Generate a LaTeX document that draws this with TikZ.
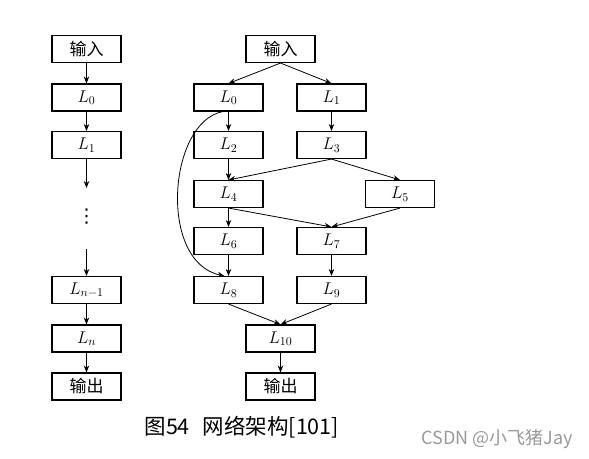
\RequirePackage{fix-cm}
\documentclass[tikz,border=0pt]{standalone}
\usepackage{fontspec}
\newfontfamily\cjk{Noto Sans CJK SC}
\newfontfamily\sym{DejaVu Sans}
\usepackage{tikz}
\usetikzlibrary{arrows.meta, positioning}

\begin{document}
\begin{tikzpicture}[x=1pt, y=-1pt,
  box/.style={draw, line width=1.1pt, minimum width=69pt, minimum height=27pt, inner sep=0pt, font=\fontsize{17}{19}\selectfont},
  line/.style={->, >={Stealth[length=7pt, width=5.5pt]}, line width=0.8pt}]
\useasboundingbox (0,0) rectangle (589,458);
% left chain
\node[box] (in1) at (86.5, 49) {\cjk 输入};
\node[box] (a0) at (86.5, 97.5) {$L_0$};
\node[box] (a1) at (86.5, 145) {$L_1$};
\coordinate (c1) at (86.5, 188);
\node[font=\sym\fontsize{19}{21}\selectfont] (dots) at (86.5, 217) {⋮};
\coordinate (c2) at (86.5, 249);
\node[box] (an1) at (86.5, 290) {$L_{n-1}$};
\node[box] (an) at (86.5, 338.5) {$L_n$};
\node[box] (out1) at (86.5, 386.5) {\cjk 输出};
\draw[line] (in1) -- (a0);
\draw[line] (a0) -- (a1);
\draw[line] (a1) -- (c1);
\draw[line] (c2) -- (an1);
\draw[line] (an1) -- (an);
\draw[line] (an) -- (out1);
% right graph
\node[box] (in2) at (280.5, 49) {\cjk 输入};
\node[box] (l0) at (228.5, 97.5) {$L_0$};
\node[box] (l1) at (331.5, 97.5) {$L_1$};
\node[box] (l2) at (228.5, 145) {$L_2$};
\node[box] (l3) at (331.5, 145) {$L_3$};
\node[box] (l4) at (228.5, 194) {$L_4$};
\node[box] (l5) at (400, 194) {$L_5$};
\node[box] (l6) at (228.5, 241) {$L_6$};
\node[box] (l7) at (331.5, 241) {$L_7$};
\node[box] (l8) at (228.5, 290) {$L_8$};
\node[box] (l9) at (331.5, 290) {$L_9$};
\node[box] (l10) at (280.5, 338.5) {$L_{10}$};
\node[box] (out2) at (280.5, 386.5) {\cjk 输出};
\draw[line] (in2.south) -- (l0.north);
\draw[line] (in2.south) -- (l1.north);
\draw[line] (l0) -- (l2);
\draw[line] (l1) -- (l3);
\draw[line] (l2) -- (l4);
\draw[line] (l3.south) -- (l4.north);
\draw[line] (l3.south) -- (l5.north);
\draw[line] (l4) -- (l6);
\draw[line] (l4.south) -- (l7.north);
\draw[line] (l5.south) -- (l7.north);
\draw[line] (l6) -- (l8);
\draw[line] (l7) -- (l9);
\draw[line] (l8.south) -- (l10.north);
\draw[line] (l9.south) -- (l10.north);
\draw[line] (l10) -- (out2);
\draw[line] (l0.-112) .. controls (168,122) and (158,262) .. ([xshift=-4pt]l8.north);
% caption
\node[anchor=base west, font=\cjk\fontsize{21.5}{24}\selectfont] (cap) at (141, 434) {图54\hspace{0.6em}网络架构[101]};
\node[anchor=base west, text=black!40, font=\cjk\fontsize{18}{20}\selectfont] (mark) at (418, 444) {CSDN @小飞猪Jay};
\end{tikzpicture}
\end{document}
